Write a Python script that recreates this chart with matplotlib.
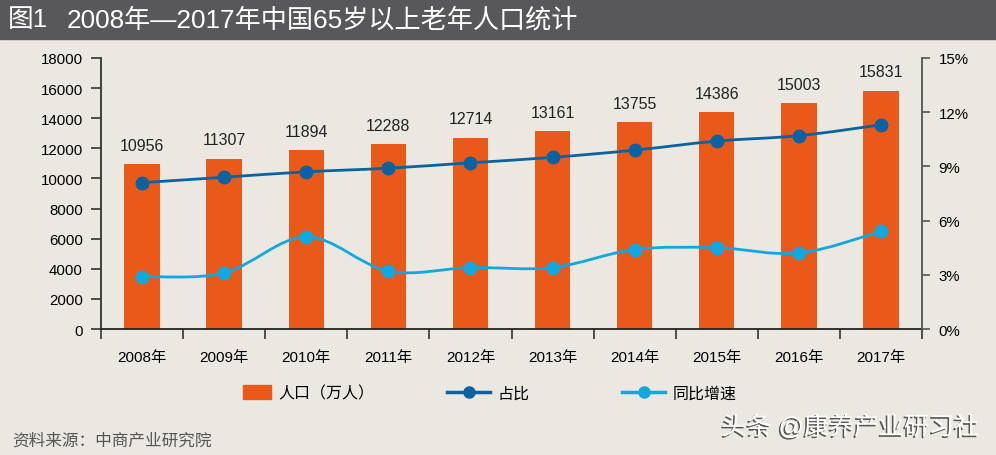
import numpy as np
import matplotlib
matplotlib.use("Agg")
import matplotlib.pyplot as plt
import matplotlib.patheffects as pe
from matplotlib.path import Path
from matplotlib.patches import PathPatch, Rectangle
from matplotlib.lines import Line2D

plt.rcParams["font.family"] = ["Liberation Sans", "Noto Sans CJK SC", "DejaVu Sans"]

years = ["2008年", "2009年", "2010年", "2011年", "2012年",
         "2013年", "2014年", "2015年", "2016年", "2017年"]
population = [10956, 11307, 11894, 12288, 12714, 13161, 13755, 14386, 15003, 15831]
share = [8.1, 8.4, 8.7, 8.9, 9.2, 9.5, 9.9, 10.4, 10.7, 11.3]
growth = [2.9, 3.1, 5.1, 3.2, 3.4, 3.4, 4.4, 4.5, 4.2, 5.4]

BG = "#ebe8e1"
ORANGE = "#e8591a"
DARK = "#0a62a0"
LIGHT = "#11a8e0"


def smooth_path(xs, ys):
    # Catmull-Rom segments as cubic Bezier pieces
    pts = list(zip(xs, ys))
    verts = [pts[0]]
    codes = [Path.MOVETO]
    n = len(pts)
    for i in range(n - 1):
        p0 = pts[max(i - 1, 0)]; p1 = pts[i]; p2 = pts[i + 1]; p3 = pts[min(i + 2, n - 1)]
        c1 = (p1[0] + (p2[0] - p0[0]) / 6, p1[1] + (p2[1] - p0[1]) / 6)
        c2 = (p2[0] - (p3[0] - p1[0]) / 6, p2[1] - (p3[1] - p1[1]) / 6)
        verts += [c1, c2, p2]
        codes += [Path.CURVE4] * 3
    return Path(verts, codes)


fig = plt.figure(figsize=(9.96, 4.56), dpi=100, facecolor=BG)
fig.patches.append(Rectangle((0, 1 - 40 / 456), 1, 40 / 456, transform=fig.transFigure,
                             color="#58585a", zorder=0))
fig.text(8 / 996, 1 - 20 / 456, "图1", color="white", fontsize=18.5, va="center", ha="left")
fig.text(67 / 996, 1 - 20 / 456, "2008年—2017年中国65岁以上老年人口统计",
         color="white", fontsize=18.8, va="center", ha="left")

ax = fig.add_axes([101 / 996, 1 - 330 / 456, 821 / 996, 271 / 456])
ax.set_facecolor(BG)
x = np.arange(len(years))
ax.bar(x, population, width=0.43, color=ORANGE, zorder=2)
for xi, v in zip(x, population):
    ax.text(xi, v + 750, str(v), ha="center", va="bottom", fontsize=11.5, color="#222222")
ax.set_xlim(-0.5, 9.5)
ax.set_ylim(0, 18000)
ax.set_yticks(range(0, 18001, 2000))
ax.set_xticks(np.arange(-0.5, 10, 1))
ax.set_xticklabels([])
ax.set_xticks(x, minor=True)
ax.set_xticklabels(years, minor=True, fontsize=11)
ax.tick_params(axis="x", which="major", length=7, width=1.2, direction="out", color="#333333")
ax.tick_params(axis="x", which="minor", length=0, pad=15)
ax.tick_params(axis="y", length=7, width=1.2, direction="out", labelsize=10.8, color="#333333", pad=6)
for s in ["top", "right"]:
    ax.spines[s].set_visible(False)
ax.spines["left"].set_color("#333333")
ax.spines["bottom"].set_color("#222222")
ax.spines["left"].set_linewidth(1.3)
ax.spines["bottom"].set_linewidth(1.3)

ax2 = ax.twinx()
ax2.set_ylim(0, 15)
ax2.set_yticks(range(0, 16, 3))
ax2.set_yticklabels([f"{t}%" for t in range(0, 16, 3)])
ax2.tick_params(axis="y", length=6, width=1.2, direction="out", labelsize=10.8, color="#555555", pad=6)
for s in ["top", "left", "bottom"]:
    ax2.spines[s].set_visible(False)
ax2.spines["right"].set_color("#555555")
ax2.spines["right"].set_linewidth(1.3)

for vals, col in [(share, DARK), (growth, LIGHT)]:
    ax2.add_patch(PathPatch(smooth_path(x, vals), fill=False, edgecolor=col, lw=2, zorder=3))
    ax2.plot(x, vals, "o", color=col, ms=9, zorder=4)

# legend: one entry each, placed like the original
items = [(Rectangle((0, 0), 1, 1, color=ORANGE), "人口（万人）", 243, 1.75),
         (Line2D([], [], color=DARK, lw=2.5, marker="o", ms=8), "占比", 447, 2.7),
         (Line2D([], [], color=LIGHT, lw=2.5, marker="o", ms=8), "同比增速", 622, 2.7)]
for h, lab, px, hl in items:
    fig.legend([h], [lab], loc="center left", bbox_to_anchor=(px / 996, 1 - 394 / 456),
               frameon=False, fontsize=11.5, handlelength=hl, handleheight=1.0,
               handletextpad=0.45, borderpad=0, borderaxespad=0)

fig.text(12 / 996, 1 - 441 / 456, "资料来源：中商产业研究院", fontsize=12, color="#555555",
         va="center", ha="left")
fig.text(979 / 996, 1 - 428 / 456, "头条 @康养产业研习社", fontsize=18, color="white",
         va="center", ha="right",
         path_effects=[pe.withSimplePatchShadow(offset=(-1.2, -1.2), shadow_rgbFace="#333333",
                                                alpha=0.8)])

fig.savefig("out.png", dpi=100, facecolor=BG)
